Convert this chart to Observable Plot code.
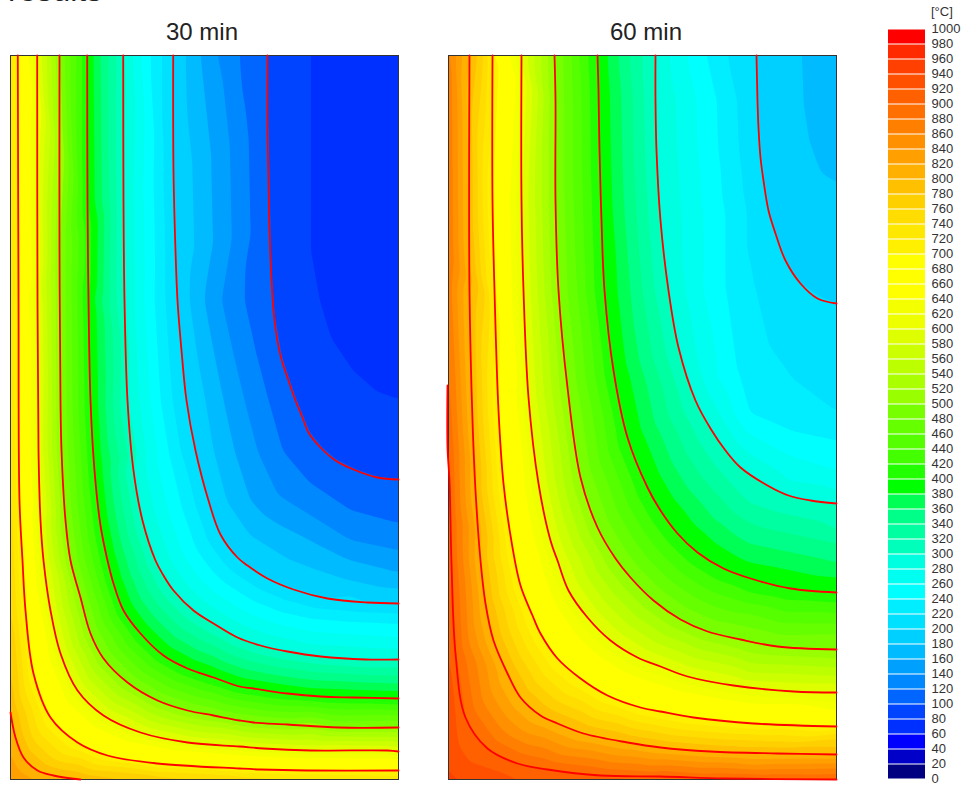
<!DOCTYPE html>
<html><head><meta charset="utf-8">
<script src="https://cdn.jsdelivr.net/npm/d3@7"></script>
<script src="https://cdn.jsdelivr.net/npm/@observablehq/plot@0.6"></script>
<style>
html,body{margin:0;padding:0;background:#fff;overflow:hidden}
#page{position:relative;width:965px;height:787px;overflow:hidden;font-family:"Liberation Sans",Arial,sans-serif;color:#222}
#page>*{position:absolute}
#page svg{display:block}
.ttl{font-size:24px;line-height:28px;text-align:center;width:200px;white-space:nowrap}
</style></head><body><div id="page"></div>
<script>
// band limits and colours of the legend (°C)
const bandLow = d3.range(0, 1000, 20);
const bandColors = ["#000080","#0000c8","#0000ff","#0030ff","#0044ff","#0066ff","#0088ff","#00a0ff","#00bbff","#00d0ff",
"#00e0ff","#00eeff","#00ffff","#00fff0","#00ffe0","#00ffbb","#00ffa0","#00ff88","#00ff55","#00ff00",
"#22ff00","#44ff00","#55ff00","#66ff00","#77ff00","#99ff00","#aaff00","#bbff00","#ccff00","#ddff00",
"#eeff00","#f4ff00","#ffff00","#ffff00","#ffff00","#fff000","#ffe800","#ffdd00","#ffd000","#ffc000",
"#ffb000","#ffa000","#ff9000","#ff8000","#ff7000","#ff6000","#ff5000","#ff4000","#ff2a00","#ff0000"];
const legendTicks = d3.range(0, 1001, 20);

// 30 min: isotherms [across, depth]
const iso30_80 = [[299,0],[299,50],[299,100],[299,150],[299,195],[308,245],[320,285],[340,315],[365,337],[388,345]];
const iso30_100 = [[257,0],[257,75],[258,125],[259,175],[261,225],[264,265],[270,300],[278,325],[285,345],[292,362],[298,377],[310,392],[325,405],[343,414],[367,422],[388,424]];
const iso30_120 = [[245,295],[258,345],[272,395],[340,455]];
const iso30_140 = [[222,295],[234,345],[247,395],[268,440],[340,485]];
const iso30_160 = [[203,295],[213,345],[224,395],[240,445],[340,505]];
const iso30_180 = [[186,295],[195,345],[203,395],[216,445],[240,480],[340,525]];
const iso30_200 = [[162.7,0],[163,115],[165,195],[167,245],[171,295],[176,345],[185,395],[198,445],[210,479],[227,502],[237,510],[257,523],[283,534],[317,543],[357,547],[388,548]];
const iso30_220 = [[158,295],[162,345],[170,395],[340,556]];
const iso30_240 = [[147,295],[150,345],[158,395],[340,566]];
const iso30_260 = [[137,295],[140,345],[147,395],[340,579]];
const iso30_280 = [[126,295],[129,345],[135,395],[340,591]];
const iso30_300 = [[112.7,0],[113,145],[114,245],[117,345],[123,415],[132,465],[145,505],[153,520],[163,535],[183,555],[203,568],[227,582],[250,590],[277,596],[310,601],[355,604],[388,604]];
const iso30_400 = [[76.7,0],[77,145],[78,245],[80,345],[84,415],[90,470],[97,505],[103,528],[113,555],[130,578],[153,600],[177,613],[203,622],[229,631],[243,633],[277,638],[310,641],[343,642],[388,643]];
const iso30_500 = [[49,0],[49,195],[50,345],[51,395],[55,465],[60,505],[70,542],[80,578],[93,603],[117,627],[147,645],[177,655],[203,660],[229,665],[243,667],[277,669],[328,672],[388,672]];
const iso30_600 = [[26.7,0],[27,245],[28,395],[30,465],[33,505],[40,555],[50,598],[67,635],[93,660],[130,677],[177,687],[229,691],[253,693],[300,695],[377,695],[388,696]];
const iso30_700 = [[7.3,0],[8,245],[9,445],[12,505],[15,555],[23,618],[40,662],[67,687],[97,700],[147,708],[229,713],[250,714],[297,715],[388,715]];
const iso30_800 = [[0,657],[5,682],[13,702],[27,715],[43,720],[70,724]];
// 30 min: band limits read along the top edge, a row at depth 245, the right edge and a column at x 300
const top30T = [720,680,660,640,620,580,560,540,520,480,460,440,420,380,360,340,320,280,260,240,220,180,160,140,120];
const top30X = [5,10,14,18,22,31.7,36.7,40.7,45,54,60,66,71.7,82.7,90,97.7,105.7,123,130,140,151.7,175,190,207,229];
const row30X = [5.5,11,14,18,22,32,37,41,45,55,61,67,72,84,91,99,106,124,134,144,155,179,194,211,234];
const right30T = [120,140,160,180,220,240,260,280,320,340,360,380,420,440,460,480,520,540,560,580,620,640,660,680,720,740];
const right30Y = [468,495,517,533,558,568,582,593,612,620,628,636,649,655,660,665,677,682,687,692,700,704,708,712,720,724];
const col30Y = [428,460,485,512,552,563,576,589,608,616,624,633,646,651,656,661,673,678,683,690,699,703,707,711,719,723];
const edge30 = [[0,0,735],[388,0,68],[345,0,72],[345,100,72],[345,200,72],[388,100,69],[388,200,70],[388,300,76],[0,300,738],[0,560,770],[0,724,840],[70,724,800],[150,724,775],[230,724,758],[300,724,745],[388,724,740]];

// 60 min: isotherms
const iso60_180 = [[353,0],[355,52],[360,85],[372,118],[388,128]];
const iso60_200 = [[308,0],[309,45],[310,72],[312,102],[315,125],[320,155],[327,178],[337,205],[352,228],[369,243],[388,248]];
const iso60_220 = [[320,290],[345,325]];
const iso60_240 = [[288,315],[340,375]];
const iso60_260 = [[268,320],[340,400]];
const iso60_280 = [[250,310],[272,360],[340,425]];
const iso60_300 = [[207,0],[207,45],[208,95],[212,165],[220,235],[230,292],[247,345],[262,373],[277,395],[292,412],[319,430],[340,440],[362,445],[388,448]];
const iso60_400 = [[149,0],[150,35],[151,95],[153,165],[156,235],[165,315],[179,382],[199,432],[212,455],[229,478],[249,497],[275,513],[302,523],[342,533],[388,537]];
const iso60_500 = [[106,0],[107,45],[107,145],[110,235],[119,332],[132,422],[149,472],[167,503],[182,522],[205,545],[232,564],[259,576],[292,584],[329,591],[388,594]];
const iso60_600 = [[73,0],[73,145],[75,235],[80,342],[90,428],[102,485],[109,505],[120,535],[139,562],[162,585],[189,602],[212,611],[239,621],[285,630],[345,636],[388,637]];
const iso60_700 = [[44,0],[44,145],[46,235],[50,355],[55,428],[64,492],[72,530],[84,560],[92,578],[109,603],[132,623],[159,640],[192,652],[212,656],[245,662],[305,668],[388,671]];
const iso60_800 = [[21,0],[21,235],[24,365],[27,435],[32,505],[37,548],[45,585],[59,618],[72,642],[92,660],[109,668],[135,678],[179,687],[212,692],[262,696],[329,698],[388,699]];
const iso60_900 = [[-1,330],[-1,392],[1,425],[2,465],[3,507],[7,598],[17,662],[39,693],[69,708],[99,714],[152,720],[212,721],[277,723],[388,724]];
const top60T = [860,840,820,780,760,740,720,680,660,640,620,580,560,540,520,480,460,440,420,380,360,340,320,280,260,240,220];
const top60X = [2,7,14,29,35,39,42,50,56,61,67,79,86,93,99,115,123,130,140,159,170,181,194,221,239,258,279];
const row60X = [3,8,15,30,37,41,44,52,58,63,69,82,89,96,103,119,129,137,146,169,182,194,206,237,255,277,307];
const right60T = [220,240,260,280,320,340,360,380,420,440,460,480,520,540,560,580,620,640,660,680,720,740,760,780,820,840,860,880];
const right60Y = [357,385,415,435,475,488,507,522,547,558,568,578,603,612,620,628,647,655,662,667,673,678,683,692,703,708,713,718];
const col60T = [240,260,280,320,340,360,380,420,440,460,480,520,540,560,580,620,640,660,680,720,740,760,780,820,840,860,880];
const col60Y = [358,378,398,447,467,488,507,537,548,558,572,597,607,617,625,640,648,655,662,673,678,685,692,703,710,713,718];
const edge60 = [[0,0,875],[388,0,168],[388,60,172],[0,200,880],[0,392,900],[0,600,925],[0,724,945],[60,724,925],[100,724,916],[150,724,908],[200,724,904],[250,724,902],[320,724,901]];

const panelW = 388, panelH = 724, pad = 2, colX = 300, rowY30 = 245, rowY60 = 235;
const bandScale = {type:"threshold", domain:bandLow.slice(1), range:bandColors};

function cloud(isos, sections, edge){
  const pts = [];
  for (const [T, line] of isos) for (const [x,y] of line) if (x >= 0) pts.push({x, y, T});
  for (const s of sections) s.T.forEach((T,i) => pts.push({x: s.x ? s.x[i] : s.atX, y: s.y ? s.y[i] : s.atY, T}));
  edge.forEach(([x,y,T]) => pts.push({x, y, T}));
  return pts;
}
// barycentric interpolation; a pixel that no triangle reached takes a neighbour's value, so that the blur stays valid
function baryFilled(index, w, h, X, Y, V){
  const W = Plot.interpolatorBarycentric()(index, w, h, X, Y, V);
  for (let pass = 0, missing = 1; missing && pass < 8; ++pass){
    missing = 0;
    for (let k = 0; k < W.length; ++k){
      if (!isNaN(W[k])) continue;
      const nb = [k % w ? W[k-1] : NaN, (k+1) % w ? W[k+1] : NaN, k >= w ? W[k-w] : NaN, k+w < W.length ? W[k+w] : NaN].find(v => !isNaN(v));
      if (nb !== undefined) W[k] = nb; else missing = 1;
    }
  }
  return W;
}
function panel(points, redLines){
  return Plot.plot({
    width:panelW+2*pad, height:panelH+2*pad,
    marginLeft:pad, marginRight:pad, marginTop:pad, marginBottom:pad,
    x:{domain:[0,panelW], axis:null},
    y:{domain:[0,panelH], reverse:true, axis:null},
    color:bandScale,
    marks:[
      Plot.contour(points, {x:"x", y:"y", fill:"T", thresholds:bandLow, interpolate:baryFilled, pixelSize:1, blur:3}),
      Plot.frame({stroke:"#333", strokeWidth:1}),
      ...redLines.map(l => Plot.line(l, {x:d=>d[0], y:d=>d[1], stroke:"#f00", strokeWidth:1.8, curve:"catmull-rom"}))
    ]
  });
}
function place(el, left, top){ el.style.left = left+"px"; el.style.top = top+"px"; document.getElementById("page").appendChild(el); return el; }
function label(text, left, top, css){ const d=document.createElement("div"); d.textContent=text; if(css) d.style.cssText=css; return place(d,left,top); }

const red30 = [[100,iso30_100],[200,iso30_200],[300,iso30_300],[400,iso30_400],[500,iso30_500],[600,iso30_600],[700,iso30_700],[800,iso30_800]];
const red60 = [[200,iso60_200],[300,iso60_300],[400,iso60_400],[500,iso60_500],[600,iso60_600],[700,iso60_700],[800,iso60_800],[900,iso60_900]];
const fillOnly30 = [[80,iso30_80],[120,iso30_120],[140,iso30_140],[160,iso30_160],[180,iso30_180],[220,iso30_220],[240,iso30_240],[260,iso30_260],[280,iso30_280]];
const fillOnly60 = [[180,iso60_180],[220,iso60_220],[240,iso60_240],[260,iso60_260],[280,iso60_280]];

const points30 = cloud([...red30,...fillOnly30], [
  {T:top30T, x:top30X, atY:0}, {T:top30T, x:row30X, atY:rowY30},
  {T:right30T, y:right30Y, atX:panelW}, {T:right30T, y:col30Y, atX:colX}], edge30);
const points60 = cloud([...red60,...fillOnly60], [
  {T:top60T, x:top60X, atY:0}, {T:top60T, x:row60X, atY:rowY60},
  {T:right60T, y:right60Y, atX:panelW}, {T:col60T, y:col60Y, atX:colX}], edge60);

place(panel(points30, red30.map(d=>d[1])), 10-pad, 55-pad);
place(panel(points60, red60.map(d=>d[1])), 448-pad, 55-pad);

const legendRows = bandLow.map((lo,i)=>({lo, hi:lo+20, c:bandColors[i]}));
place(Plot.plot({
  width:77, height:770,
  marginLeft:0, marginRight:40, marginTop:10, marginBottom:10,
  style:{fontFamily:'"Liberation Sans",sans-serif', fontSize:"13px", color:"#333", background:"transparent"},
  y:{domain:[0,1000], axis:null},
  marks:[
    Plot.rectY(legendRows,{y1:"lo", y2:"hi", fill:d=>d.c, insetTop:0.5, insetBottom:0.5}),
    Plot.axisY(legendTicks,{anchor:"right", tickSize:0, tickPadding:6, tickFormat:d=>String(d), label:null, dy:-0.5})
  ]
}), 888, 19);

label("results", 8, -29, "font-size:32px;line-height:38px;white-space:nowrap");
const t1 = label("30 min", 102, 18); t1.className="ttl";
const t2 = label("60 min", 546, 18); t2.className="ttl";
label("[°C]", 931, 5, 'font-size:13px;line-height:14px;color:#333');
</script></body></html>
